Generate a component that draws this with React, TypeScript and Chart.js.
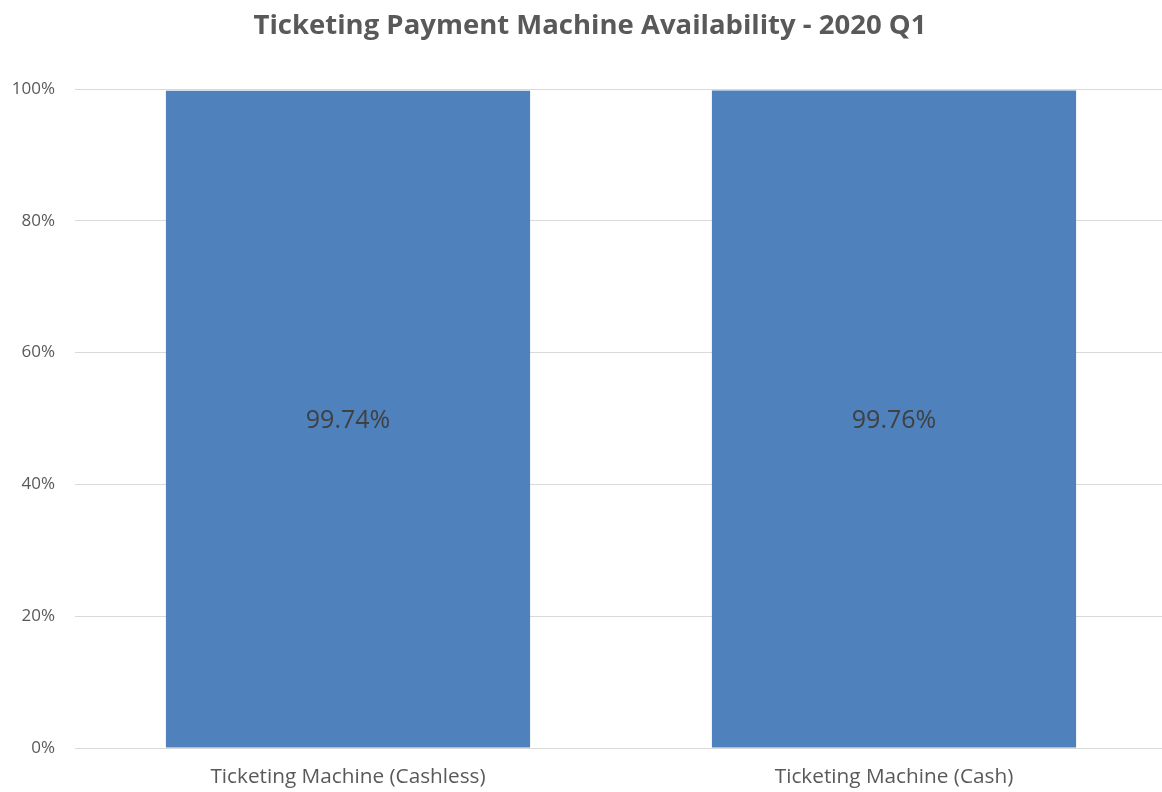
import React, { useEffect, useRef } from "react";
import { Chart, registerables } from "chart.js";

Chart.register(...registerables);

const categories = ["Ticketing Machine (Cashless)", "Ticketing Machine (Cash)"];
const availability = [0.9974, 0.9976];
const dataLabels = ["99.74%", "99.76%"];
const titleText = "Ticketing Payment Machine Availability - 2020 Q1";

const FONT = "'Open Sans', 'Noto Sans', sans-serif";

const centerLabels = {
  id: "centerLabels",
  afterDatasetsDraw(chart: any) {
    const { ctx } = chart;
    const meta = chart.getDatasetMeta(0);
    ctx.save();
    ctx.font = `25px ${FONT}`;
    ctx.fillStyle = "#404040";
    ctx.textAlign = "center";
    ctx.textBaseline = "middle";
    meta.data.forEach((bar: any, i: number) => {
      const y = (bar.y + bar.base) / 2 + 2;
      ctx.fillText(dataLabels[i], bar.x, y);
    });
    ctx.restore();
  },
};

export default function App() {
  const ref = useRef<HTMLCanvasElement>(null);
  useEffect(() => {
    if (!ref.current) return;
    const chart = new Chart(ref.current, {
      type: "bar",
      data: {
        labels: categories,
        datasets: [
          {
            data: availability,
            backgroundColor: "#4F81BD",
            borderWidth: 0,
            categoryPercentage: 1,
            barPercentage: 0.667,
          },
        ],
      },
      options: {
        responsive: false,
        animation: false,
        layout: { padding: { left: 13, right: 0, top: 0, bottom: 4 } },
        plugins: {
          legend: { display: false },
          tooltip: { enabled: false },
          title: {
            display: true,
            text: titleText,
            color: "#595959",
            font: { family: FONT, size: 27.5, weight: "bold" },
            padding: { top: 10, bottom: 46 },
          },
        },
        scales: {
          x: {
            afterFit: (s: any) => {
              s.height = 40;
            },
            grid: { display: false, drawTicks: false },
            border: { display: true, color: "#d9d9d9", width: 1 },
            ticks: {
              color: "#595959",
              font: { family: FONT, size: 20.75 },
              padding: 17,
              maxRotation: 0,
            },
          },
          y: {
            min: 0,
            max: 1,
            afterFit: (s: any) => {
              s.width = 62;
            },
            grid: { color: "#d9d9d9", lineWidth: 1, drawTicks: false },
            border: { display: false },
            ticks: {
              stepSize: 0.2,
              color: "#595959",
              font: { family: FONT, size: 17 },
              padding: 20,
              callback: (v: any) => `${Math.round(Number(v) * 100)}%`,
            },
          },
        },
      },
      plugins: [centerLabels],
    });
    return () => chart.destroy();
  }, []);
  return (
    <div
      style={{
        position: "absolute",
        left: 0,
        top: 0,
        width: 1162,
        height: 792,
        overflow: "hidden",
        background: "#fff",
      }}
    >
      <canvas ref={ref} width={1167} height={792} style={{ width: 1167, height: 792 }} />
    </div>
  );
}
